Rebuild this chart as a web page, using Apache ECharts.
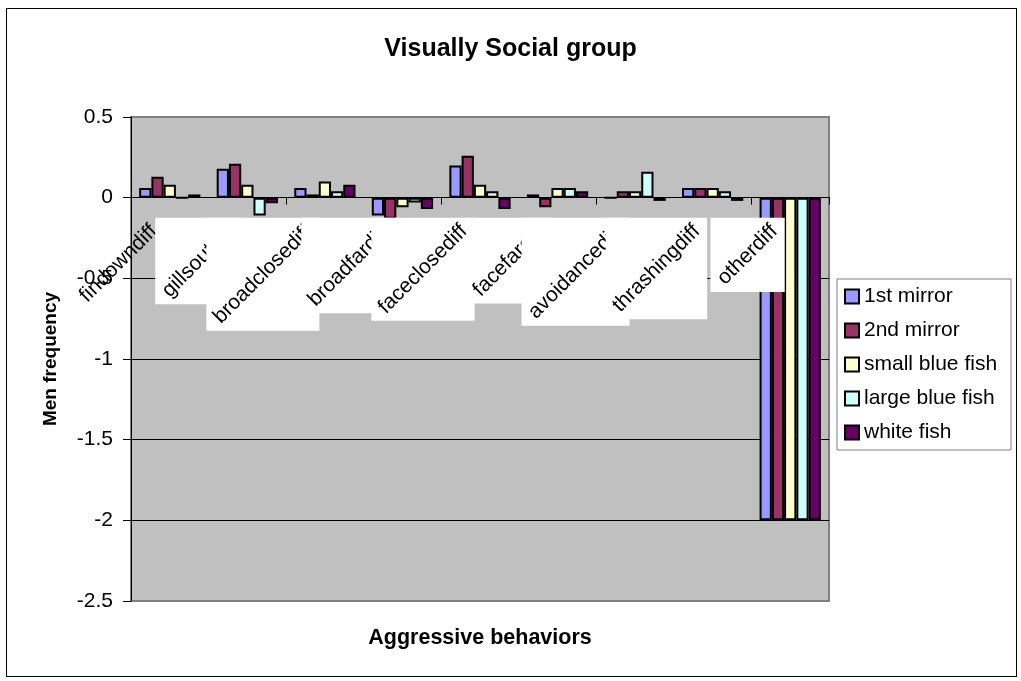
<!DOCTYPE html>
<html>
<head>
<meta charset="utf-8">
<title>Visually Social group</title>
<script src="https://cdn.jsdelivr.net/npm/echarts@6/dist/echarts.min.js"></script>
<style>
  html, body { margin: 0; padding: 0; background: #fff; }
  #chart { width: 1021px; height: 681px; }
  #frame { position: absolute; left: 6px; top: 8px; width: 1009px; height: 667px; border: 1px solid #000; pointer-events: none; }
</style>
</head>
<body>
<div id="chart"></div>
<div id="frame"></div>
<script>
// Behaviour categories along the x axis
const categories = ['findowndiff', 'gillsoutdiff', 'broadclosediff', 'broadfardiff', 'faceclosediff',
  'facefardiff', 'avoidancediff', 'thrashingdiff', 'otherdiff'];

// Frequency differences per stimulus
const firstMirror  = [0.06, 0.18, 0.06, -0.11, 0.20, 0.02, 0.00, 0.06, -2];
const secondMirror = [0.13, 0.21, 0.02, -0.13, 0.26, -0.06, 0.04, 0.06, -2];
const smallBlueFish = [0.08, 0.08, 0.10, -0.06, 0.08, 0.06, 0.04, 0.06, -2];
const largeBlueFish = [0.00, -0.11, 0.04, -0.03, 0.04, 0.06, 0.16, 0.04, -2];
const whiteFish    = [0.02, -0.035, 0.08, -0.07, -0.07, 0.04, -0.02, -0.02, -2];

const seriesNames = ['1st mirror', '2nd mirror', 'small blue fish', 'large blue fish', 'white fish'];
const seriesColors = ['#9999FF', '#993366', '#FFFFCC', '#CCFFFF', '#660066'];
const seriesValues = [firstMirror, secondMirror, smallBlueFish, largeBlueFish, whiteFish];

// Value axis ticks
const yMin = -2.5, yMax = 0.5, yStep = 0.5;

const FONT = 'Liberation Sans';
const LABEL_SIZE = 21;

const measureCtx = document.createElement('canvas').getContext('2d');
measureCtx.font = LABEL_SIZE + 'px "' + FONT + '"';

const chart = echarts.init(document.getElementById('chart'), null, { renderer: 'canvas' });

const barSeries = seriesNames.map((name, k) => ({
  name: name,
  type: 'bar',
  data: seriesValues[k],
  barGap: '0%',
  barCategoryGap: '21%',
  itemStyle: { color: seriesColors[k], borderColor: '#000', borderWidth: 2 },
  emphasis: { disabled: true },
  z: 2
}));

// Rotated category labels sitting in white boxes just under the zero line
const labelSeries = {
  type: 'custom',
  name: 'category labels',
  silent: true,
  clip: false,
  z: 4,
  data: categories.map((c, i) => [i, 0]),
  encode: { x: 0, y: 1 },
  renderItem: function (params, api) {
    const i = params.dataIndex;
    const text = categories[i];
    const p = api.coord([i, 0]);
    const L = measureCtx.measureText(text).width;
    const S = (L + LABEL_SIZE) / Math.SQRT2 + 6;
    const right = p[0] - 5.5;
    const top = p[1] + 20;
    const children = [];
    if (i > 0) {
      children.push({
        type: 'rect', z2: i * 2,
        shape: { x: right - S, y: top, width: S, height: S },
        style: { fill: '#fff' }
      });
    }
    children.push({
      type: 'text', z2: i * 2 + 1,
      x: right - S / 2, y: top + S / 2,
      rotation: Math.PI / 4,
      style: {
        text: text, fontSize: LABEL_SIZE, fontFamily: FONT, fill: '#000',
        align: 'center', verticalAlign: 'middle'
      }
    });
    return { type: 'group', children: children };
  }
};

chart.setOption({
  animation: false,
  backgroundColor: '#fff',
  textStyle: { fontFamily: FONT, color: '#000' },
  title: [
    {
      text: 'Visually Social group',
      left: 'center', top: 37, padding: 0,
      textStyle: { fontSize: 25, fontWeight: 'bold', color: '#000', fontFamily: FONT }
    },
    {
      text: 'Aggressive behaviors',
      left: 480, top: 627, padding: 0, textAlign: 'center',
      textStyle: { fontSize: 21.5, fontWeight: 'bold', color: '#000', fontFamily: FONT }
    }
  ],
  legend: {
    data: seriesNames,
    orient: 'vertical',
    left: 837, top: 279,
    padding: [7, 14, 7, 7],
    itemWidth: 14, itemHeight: 14, itemGap: 13, itemTextGap: 5,
    icon: 'rect',
    selectedMode: false,
    backgroundColor: '#fff',
    borderColor: '#808080', borderWidth: 1,
    textStyle: { fontSize: 21, lineHeight: 21, color: '#000', fontFamily: FONT }
  },
  grid: {
    left: 131, right: 192, top: 117, bottom: 80,
    show: true, backgroundColor: '#C0C0C0',
    borderColor: '#808080', borderWidth: 2
  },
  xAxis: {
    type: 'category',
    data: categories,
    axisLine: { onZero: true, lineStyle: { color: '#000', width: 1 } },
    axisTick: { show: true, length: 7, lineStyle: { color: '#000' } },
    axisLabel: { show: false },
    splitLine: { show: false }
  },
  yAxis: {
    type: 'value',
    min: yMin, max: yMax, interval: yStep,
    name: 'Men frequency',
    nameLocation: 'middle',
    nameGap: 71,
    nameRotate: 90,
    nameTextStyle: { fontSize: 19, fontWeight: 'bold', color: '#000', fontFamily: FONT },
    axisLine: { show: true, lineStyle: { color: '#000', width: 1 } },
    axisTick: { show: true, length: 8, lineStyle: { color: '#000' } },
    axisLabel: { fontSize: 21, color: '#000', margin: 18, fontFamily: FONT },
    splitLine: {
      show: true,
      lineStyle: { color: ['#808080', '#000', '#000', '#000', '#000', '#000', '#808080'], width: 1 }
    }
  },
  series: barSeries.concat([labelSeries])
});
</script>
</body>
</html>
